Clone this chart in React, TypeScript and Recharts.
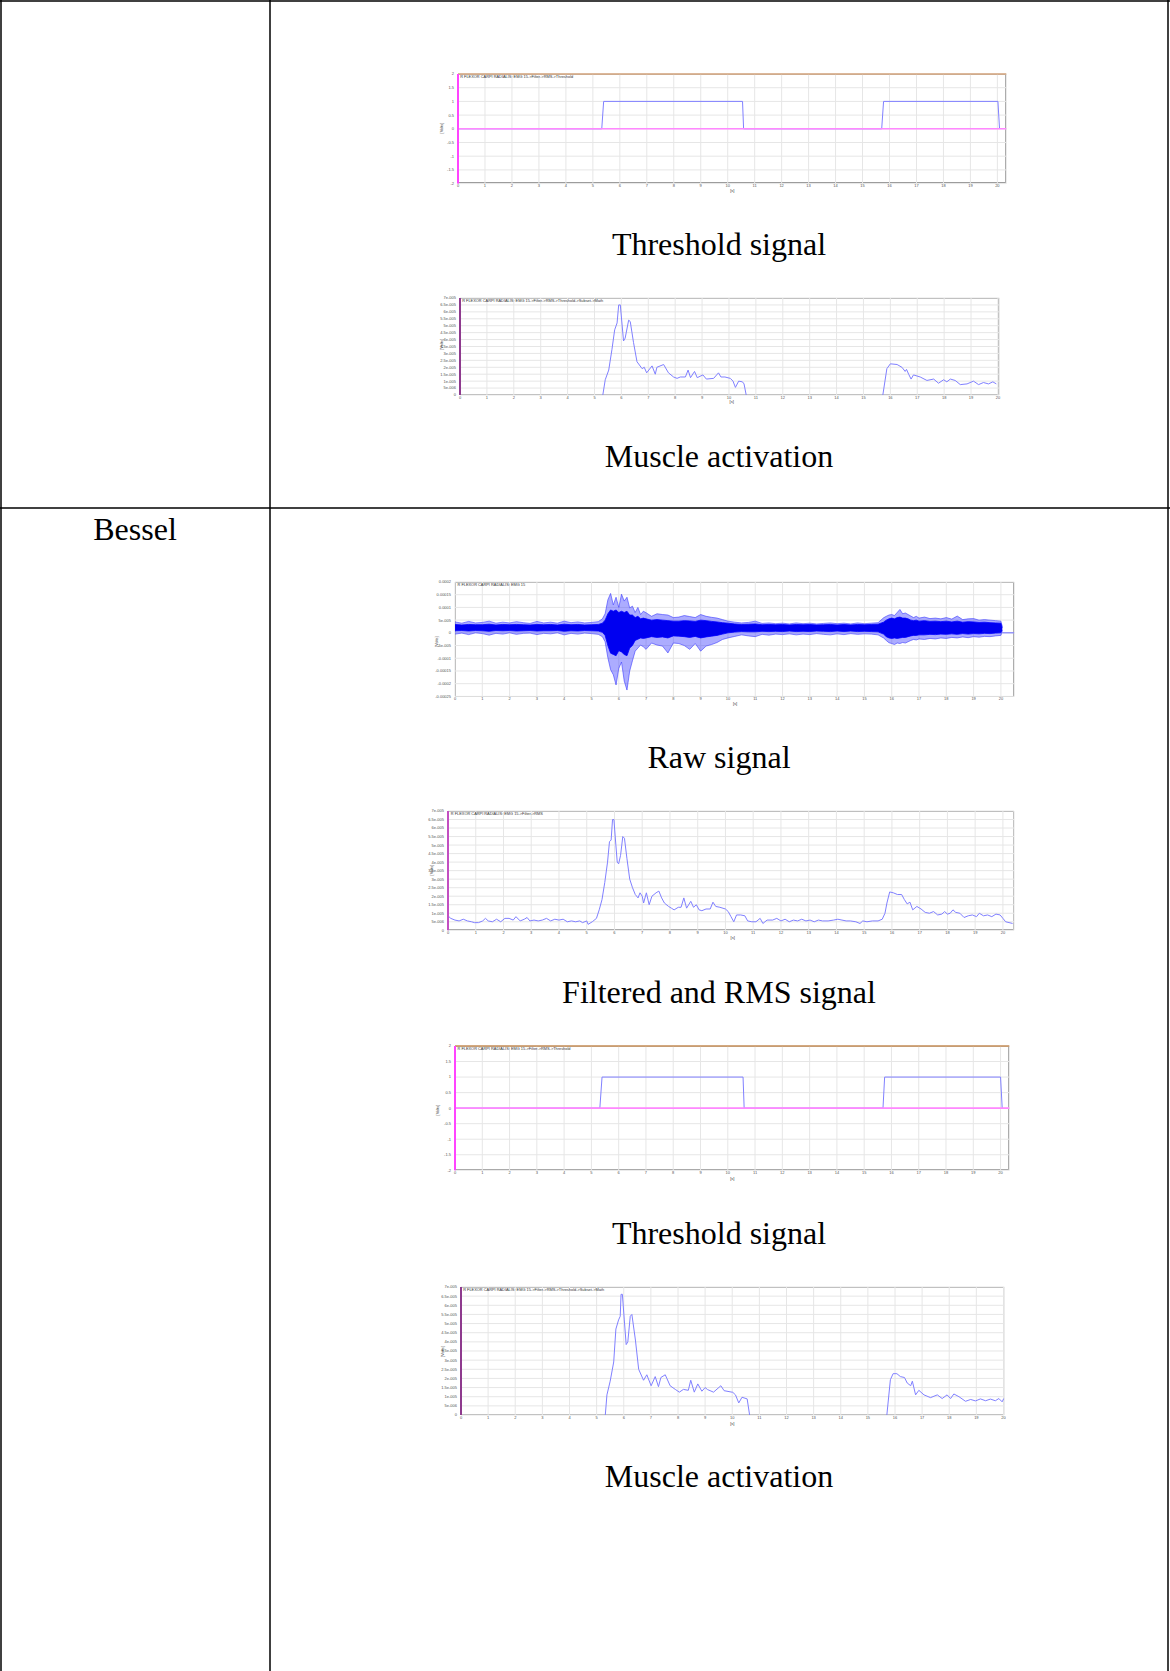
import React from "react"
import { ComposedChart, Line, Area, XAxis, YAxis, CartesianGrid, ReferenceLine } from "recharts"

// time axis (s)
const seconds = [0, 1, 2, 3, 4, 5, 6, 7, 8, 9, 10, 11, 12, 13, 14, 15, 16, 17, 18, 19, 20]

// y ticks
const thrTicks = [-2, -1.5, -1, -0.5, 0, 0.5, 1, 1.5, 2]
const thrLabels = ["-2", "-1.5", "-1", "-0.5", "0", "0.5", "1", "1.5", "2"]
// activation / RMS values are in units of 1e-5 V
const actTicks = [0, 0.5, 1, 1.5, 2, 2.5, 3, 3.5, 4, 4.5, 5, 5.5, 6, 6.5, 7]
const actLabels = ["0", "5e-006", "1e-005", "1.5e-005", "2e-005", "2.5e-005", "3e-005", "3.5e-005", "4e-005", "4.5e-005", "5e-005", "5.5e-005", "6e-005", "6.5e-005", "7e-005"]
const rawTicks = [-25, -20, -15, -10, -5, 0, 5, 10, 15, 20]
const rawLabels = ["-0.00025", "-0.0002", "-0.00015", "-0.0001", "-5e-005", "0", "5e-005", "0.0001", "0.00015", "0.0002"]

// threshold output (0 / 1)
const thrTop: [number, number][] = [[0, 0], [5.33, 0], [5.4, 1], [10.55, 1], [10.59, 0], [15.71, 0], [15.78, 1], [20.02, 1], [20.08, 0]]
const thrBessel: [number, number][] = [[0, 0], [5.31, 0], [5.39, 1], [10.56, 1], [10.6, 0], [15.69, 0], [15.75, 1], [20.0, 1], [20.06, 0]]

// muscle activation, first table row (1e-5 V)
const actTopA: [number, number][] = [[5.31, 0], [5.4, 1.1], [5.53, 1.8], [5.65, 3.3], [5.75, 4.7], [5.84, 5.2], [5.9, 6.5], [5.96, 6.5], [6.08, 3.9], [6.14, 4.1], [6.27, 5.4], [6.33, 5.3], [6.45, 3.8], [6.58, 2.4], [6.77, 1.9], [6.85, 2.0], [6.94, 1.6], [7.14, 2.1], [7.26, 1.5], [7.32, 2.0], [7.57, 2.2], [7.75, 1.6], [7.94, 1.3], [8.07, 1.2], [8.19, 1.3], [8.38, 1.3], [8.48, 1.8], [8.57, 1.25], [8.72, 1.7], [8.82, 1.25], [9.03, 1.45], [9.16, 1.15], [9.43, 1.2], [9.61, 1.6], [9.7, 1.3], [9.85, 1.3], [10.05, 1.2], [10.15, 1.0], [10.24, 0.55], [10.36, 1.0], [10.5, 0.95], [10.56, 0.8], [10.64, 0]]
const actTopB: [number, number][] = [[15.72, 0], [15.87, 1.9], [16.0, 2.25], [16.25, 2.2], [16.43, 2.0], [16.55, 1.7], [16.6, 1.85], [16.68, 1.5], [16.77, 1.15], [16.86, 1.45], [17.11, 1.3], [17.36, 1.05], [17.61, 1.15], [17.79, 0.85], [17.98, 1.1], [18.1, 0.95], [18.23, 1.15], [18.41, 1.05], [18.6, 0.75], [18.85, 0.8], [19.09, 1.0], [19.28, 0.75], [19.46, 0.9], [19.65, 0.8], [19.81, 0.95], [19.94, 0.8]]

// raw EMG envelope (1e-5 V): outer spikes and dense core
const rawTime = [0, 0.25, 0.5, 0.75, 1, 1.25, 1.5, 1.75, 2, 2.25, 2.5, 2.75, 3, 3.25, 3.5, 3.75, 4, 4.25, 4.5, 4.75, 5, 5.25, 5.4,
  5.5, 5.6, 5.7, 5.8, 5.9, 6, 6.1, 6.2, 6.3, 6.4, 6.5, 6.6, 6.7, 6.8, 6.9, 7,
  7.2, 7.4, 7.6, 7.8, 8, 8.2, 8.4, 8.6, 8.8, 9, 9.2, 9.4, 9.6, 9.8, 10,
  10.25, 10.5, 10.75, 11, 11.25, 11.5, 11.75, 12, 12.25, 12.5, 12.75, 13, 13.25, 13.5, 13.75, 14, 14.25, 14.5, 14.75, 15, 15.25, 15.5,
  15.7, 15.8, 15.9, 16, 16.1, 16.2, 16.3, 16.4, 16.5, 16.6, 16.7, 16.8, 16.9, 17,
  17.2, 17.4, 17.6, 17.8, 18, 18.2, 18.4, 18.6, 18.8, 19, 19.2, 19.4, 19.6, 19.8, 20, 20.05]
const rawOuterHi = [4.3, 3.8, 4.5, 3.9, 4.1, 4.6, 3.8, 4.2, 3.9, 4.4, 4.0, 3.7, 4.5, 3.9, 4.2, 3.8, 4.6, 4.0, 4.3, 3.9, 4.1, 4.4, 5.5,
  7.5, 13.0, 15.5, 11.0, 14.0, 10.0, 15.2, 12.5, 14.0, 9.8, 10.5, 8.0, 10.0, 7.2, 8.5, 7.9,
  6.5, 7.5, 7.2, 7.0, 6.0, 6.2, 6.8, 6.4, 6.0, 7.2, 6.5, 6.1, 5.8, 5.2, 4.6,
  4.2, 3.9, 4.1, 4.6, 3.7, 3.9, 3.6, 3.8, 3.5, 3.9, 3.6, 3.8, 3.5, 3.7, 3.9, 3.6, 3.8, 3.5, 3.9, 3.6, 3.8, 4.0,
  5.9, 6.5, 7.0, 7.2, 6.8, 8.0, 9.2, 7.5, 7.8, 7.2, 6.6, 6.0, 6.5, 5.8,
  6.2, 5.6, 5.8, 5.5, 6.0, 5.4, 6.6, 5.2, 5.5, 5.6, 5.0, 5.2, 5.0, 4.8, 4.6, 2.5]
const rawOuterLo = [-0.5, -0.1, -0.7, 0, -0.3, -0.9, -0.2, -0.5, 0, -0.6, -0.2, -0.1, -0.7, -0.2, -0.4, 0, -0.8, -0.2, -0.5, -0.1, -0.3, -0.6, -1.5,
  -3.5, -9.8, -14.5, -16.5, -20.5, -14.0, -11.5, -19.0, -22.5, -15.0, -11.0, -7.2, -6.0, -4.8, -5.5, -6.5,
  -4.0, -4.8, -5.2, -7.9, -4.0, -4.2, -5.0, -6.5, -4.2, -7.2, -5.2, -4.6, -3.8, -2.6, -2.0,
  -1.4, -0.8, -1.2, -1.5, -0.6, -0.9, -0.5, -0.7, -0.4, -0.8, -0.5, -0.7, -0.3, -0.6, -0.8, -0.4, -0.7, -0.3, -0.6, -0.4, -0.5, -0.8,
  -2.0, -3.0, -3.9, -4.2, -4.6, -4.0, -4.2, -3.8, -4.0, -3.5, -3.0, -2.6, -2.8, -2.4,
  -2.6, -2.2, -2.4, -2.0, -2.2, -1.8, -2.0, -1.6, -1.9, -1.5, -1.7, -1.4, -1.5, -1.2, -1.0, 0.5]
const rawCoreHi = [3.3, 3.1, 3.3, 3.2, 3.2, 3.4, 3.1, 3.3, 3.2, 3.3, 3.2, 3.1, 3.3, 3.2, 3.3, 3.1, 3.4, 3.2, 3.3, 3.1, 3.2, 3.3, 3.8,
  5.0, 7.5, 9.0, 8.5, 9.0, 8.0, 8.5, 8.0, 8.5, 7.0, 7.0, 6.0, 6.5, 5.5, 5.8, 5.5,
  5.0, 5.2, 5.0, 4.8, 4.6, 4.6, 4.8, 4.7, 4.5, 5.0, 4.8, 4.5, 4.3, 4.0, 3.8,
  3.5, 3.3, 3.4, 3.5, 3.2, 3.3, 3.2, 3.3, 3.1, 3.3, 3.2, 3.3, 3.1, 3.2, 3.3, 3.1, 3.3, 3.1, 3.3, 3.2, 3.3, 3.4,
  4.2, 5.0, 5.5, 5.8, 5.5, 6.0, 6.2, 5.8, 5.8, 5.5, 5.0, 4.8, 5.0, 4.6,
  4.8, 4.5, 4.6, 4.4, 4.6, 4.3, 4.6, 4.2, 4.4, 4.3, 4.1, 4.2, 4.0, 3.9, 3.8, 2.0]
const rawCoreLo = [0.8, 0.9, 0.7, 0.9, 0.8, 0.6, 0.9, 0.8, 0.9, 0.7, 0.8, 0.9, 0.7, 0.8, 0.8, 0.9, 0.6, 0.8, 0.7, 0.9, 0.8, 0.7, 0.2,
  -1.0, -5.0, -8.0, -8.5, -9.0, -7.0, -7.5, -8.5, -9.0, -6.0, -5.0, -3.0, -2.5, -2.0, -2.2, -2.0,
  -1.5, -1.8, -1.6, -2.0, -1.2, -1.3, -1.5, -1.8, -1.4, -2.0, -1.6, -1.3, -1.0, -0.5, 0,
  0.3, 0.5, 0.4, 0.4, 0.6, 0.5, 0.6, 0.5, 0.7, 0.5, 0.6, 0.5, 0.7, 0.6, 0.5, 0.7, 0.5, 0.7, 0.5, 0.6, 0.5, 0.4,
  -0.5, -1.5, -2.0, -2.2, -2.0, -2.2, -2.0, -1.8, -1.8, -1.5, -1.2, -1.0, -1.0, -0.8,
  -0.8, -0.6, -0.7, -0.5, -0.6, -0.4, -0.6, -0.3, -0.5, -0.3, -0.4, -0.2, -0.3, -0.1, 0, 1.0]
const rawTail: [number, number][] = [[20.05, 0], [20.49, 0]]

// filtered + RMS (1e-5 V)
const filtered: [number, number][] = [[0, 0.85], [0.1, 0.7], [0.25, 0.6], [0.4, 0.55], [0.55, 0.65], [0.7, 0.55], [0.85, 0.5], [0.95, 0.45], [1.1, 0.45], [1.25, 0.55], [1.35, 0.7], [1.45, 0.55], [1.6, 0.5], [1.75, 0.65], [1.9, 0.5], [2.05, 0.7], [2.2, 0.7], [2.35, 0.6], [2.45, 0.8], [2.6, 0.55], [2.75, 0.65], [2.85, 0.75], [2.95, 0.55], [3.1, 0.6], [3.25, 0.55], [3.4, 0.6], [3.55, 0.7], [3.7, 0.55], [3.85, 0.65], [4.0, 0.6], [4.15, 0.65], [4.3, 0.5], [4.45, 0.55], [4.6, 0.5], [4.75, 0.55], [4.85, 0.45], [5.0, 0.55], [5.05, 0.35], [5.2, 0.5], [5.35, 0.7], [5.45, 1.2], [5.55, 1.8], [5.65, 2.8], [5.75, 4.0], [5.82, 5.2], [5.88, 5.3], [5.93, 6.5], [5.98, 6.5], [6.05, 5.0], [6.1, 4.0], [6.15, 3.9], [6.22, 4.4], [6.3, 5.5], [6.36, 5.4], [6.45, 4.2], [6.55, 3.0], [6.65, 2.5], [6.75, 2.1], [6.85, 1.9], [6.92, 2.2], [7.0, 2.0], [7.05, 1.6], [7.15, 2.2], [7.25, 1.5], [7.35, 2.0], [7.5, 2.2], [7.6, 2.3], [7.7, 1.9], [7.8, 1.6], [7.95, 1.4], [8.05, 1.3], [8.15, 1.2], [8.3, 1.35], [8.4, 1.35], [8.5, 1.9], [8.6, 1.3], [8.75, 1.7], [8.85, 1.35], [8.95, 1.5], [9.05, 1.2], [9.15, 1.15], [9.3, 1.25], [9.45, 1.25], [9.55, 1.65], [9.65, 1.4], [9.8, 1.35], [10.0, 1.25], [10.1, 1.1], [10.2, 0.8], [10.3, 0.5], [10.4, 0.9], [10.55, 0.9], [10.7, 0.85], [10.8, 0.55], [10.95, 0.5], [11.1, 0.5], [11.25, 0.7], [11.35, 0.4], [11.5, 0.6], [11.7, 0.6], [11.85, 0.7], [12.0, 0.55], [12.15, 0.65], [12.3, 0.5], [12.45, 0.6], [12.6, 0.55], [12.75, 0.65], [12.9, 0.55], [13.05, 0.6], [13.2, 0.5], [13.35, 0.6], [13.5, 0.55], [13.7, 0.55], [13.9, 0.6], [14.05, 0.65], [14.2, 0.6], [14.35, 0.55], [14.5, 0.55], [14.7, 0.5], [14.85, 0.4], [14.95, 0.55], [15.1, 0.5], [15.3, 0.55], [15.5, 0.55], [15.65, 0.65], [15.75, 1.0], [15.82, 1.6], [15.92, 2.25], [16.05, 2.2], [16.2, 2.1], [16.35, 2.1], [16.45, 1.8], [16.55, 1.55], [16.65, 1.65], [16.75, 1.2], [16.9, 1.4], [17.05, 1.25], [17.2, 1.05], [17.35, 1.0], [17.5, 1.1], [17.65, 0.9], [17.8, 0.95], [17.9, 1.1], [18.0, 0.95], [18.1, 1.0], [18.2, 1.2], [18.3, 1.05], [18.45, 1.0], [18.6, 0.75], [18.75, 0.85], [18.9, 0.9], [19.05, 0.8], [19.15, 1.0], [19.3, 0.85], [19.45, 0.9], [19.6, 0.8], [19.75, 0.95], [19.9, 0.9], [20.0, 0.7], [20.1, 0.5], [20.35, 0.4]]

// muscle activation, Bessel row (1e-5 V)
const actBesselA: [number, number][] = [[5.32, 0], [5.38, 1.1], [5.5, 1.85], [5.63, 2.9], [5.71, 4.7], [5.81, 5.2], [5.87, 5.4], [5.9, 6.6], [5.95, 6.6], [6.02, 5.2], [6.09, 3.85], [6.15, 4.0], [6.24, 5.4], [6.3, 5.5], [6.43, 4.1], [6.55, 2.5], [6.73, 1.9], [6.85, 2.2], [7.01, 1.6], [7.16, 2.1], [7.28, 1.55], [7.37, 2.05], [7.53, 2.2], [7.71, 1.6], [7.9, 1.4], [8.05, 1.25], [8.2, 1.4], [8.38, 1.35], [8.47, 1.9], [8.6, 1.25], [8.73, 1.7], [8.88, 1.3], [9.0, 1.5], [9.09, 1.39], [9.31, 1.25], [9.58, 1.6], [9.7, 1.33], [10.02, 1.24], [10.12, 1.1], [10.24, 0.66], [10.36, 0.97], [10.55, 0.88], [10.64, 0]]
const actBesselB: [number, number][] = [[15.7, 0], [15.83, 1.93], [15.93, 2.26], [16.07, 2.26], [16.2, 2.1], [16.35, 2.05], [16.45, 1.75], [16.58, 1.6], [16.64, 1.85], [16.76, 1.1], [16.88, 1.35], [17.07, 1.1], [17.31, 0.95], [17.56, 1.1], [17.74, 0.9], [17.92, 1.1], [18.05, 0.9], [18.17, 1.15], [18.36, 1.0], [18.6, 0.75], [18.79, 0.85], [18.97, 0.77], [19.15, 0.88], [19.34, 0.78], [19.52, 0.87], [19.7, 0.78], [19.83, 0.9], [19.95, 0.72], [20.01, 0.9]]

const pts = (a: [number, number][]) => a.map(([t, v]) => ({ t, v }))
const rawRows = rawTime.map((t, i) => ({
  t,
  outer: [rawOuterLo[i], rawOuterHi[i]],
  core: [rawCoreLo[i], rawCoreHi[i]],
}))

type Box = { l: number; t: number; r: number; b: number }

const tickStyle = { fontSize: 4, fill: "#555", fontFamily: "Liberation Sans, Arial, sans-serif" }
const BLUE = "#8080ff"

function Plot({ box, xMax, yDomain, yTicks, yLabels, data, children }: {
  box: Box; xMax: number; yDomain: [number, number]; yTicks: number[]; yLabels: string[]; data?: any[]; children: React.ReactNode
}) {
  const padL = 30, padT = 5, padR = 2, padB = 10
  const w = box.r - box.l
  const h = box.b - box.t
  return (
    <>
      <div style={{ position: "absolute", left: box.l, top: box.t, width: w, height: h, border: "1px solid #9c9c9c", boxSizing: "border-box" }} />
      <div style={{ position: "absolute", left: box.l - padL, top: box.t - padT }}>
        <ComposedChart width={w + padL + padR} height={h + padT + padB} data={data} margin={{ top: padT, right: padR, bottom: 0, left: 0 }}>
          <CartesianGrid stroke="#e6e6e6" strokeWidth={1} />
          <XAxis type="number" dataKey="t" domain={[0, xMax]} ticks={seconds} interval={0} allowDataOverflow
            height={padB} tickLine={false} axisLine={false} tickSize={1} tickMargin={0} tick={tickStyle} />
          <YAxis type="number" domain={yDomain} ticks={yTicks} interval={0} allowDataOverflow width={padL}
            tickLine={false} axisLine={false} tickSize={1} tickMargin={3} tick={tickStyle}
            tickFormatter={(v: number) => yLabels[yTicks.indexOf(v)] ?? String(v)} />
          {children}
        </ComposedChart>
      </div>
    </>
  )
}

const boxes: Box[] = [
  { l: 457.7, t: 73.7, r: 1006, b: 183.3 },
  { l: 459.7, t: 298.3, r: 999, b: 395.3 },
  { l: 455, t: 582.3, r: 1014.3, b: 696.7 },
  { l: 448.3, t: 811, r: 1014.3, b: 930.3 },
  { l: 455, t: 1046, r: 1009.3, b: 1170.3 },
  { l: 460.7, t: 1287.3, r: 1004, b: 1415.3 },
]

const titles = [
  "R FLEXOR CARPI RADIALIS: EMG 15->Filter->RMS->Threshold",
  "R FLEXOR CARPI RADIALIS: EMG 15->Filter->RMS->Threshold->Subset->Math",
  "R FLEXOR CARPI RADIALIS: EMG 15",
  "R FLEXOR CARPI RADIALIS: EMG 15->Filter->RMS",
  "R FLEXOR CARPI RADIALIS: EMG 15->Filter->RMS->Threshold",
  "R FLEXOR CARPI RADIALIS: EMG 15->Filter->RMS->Threshold->Subset->Math",
]
const voltsAt = [[441.7, 128], [441.7, 344.3], [436.7, 641.7], [431.7, 870], [438.3, 1110], [443.3, 1351.7]]
const secAt = [[732.3, 192], [731.7, 402.5], [735, 705], [732.7, 938.5], [732.3, 1180], [732.3, 1425]]

const captions: [string, number, number][] = [
  ["Threshold signal", 719, 255],
  ["Muscle activation", 719, 467],
  ["Bessel", 135, 540],
  ["Raw signal", 719, 768],
  ["Filtered and RMS signal", 719, 1003],
  ["Threshold signal", 719, 1244],
  ["Muscle activation", 719, 1487],
]

export default function App() {
  return (
    <div style={{ position: "absolute", left: 0, top: 0, width: 1170, height: 1671, background: "#fff", overflow: "hidden" }}>
      {/* threshold, first row */}
      <Plot box={boxes[0]} xMax={20.33} yDomain={[-2, 2]} yTicks={thrTicks} yLabels={thrLabels}>
        <Line data={pts(thrTop)} dataKey="v" type="linear" stroke={BLUE} strokeWidth={1} dot={false} isAnimationActive={false} />
        <ReferenceLine y={0} stroke="#ff88ff" strokeWidth={1.6} />
        <ReferenceLine y={2} stroke="#d4a47c" strokeWidth={1.6} />
        <ReferenceLine x={0} stroke="#ff44ff" strokeWidth={2} />
      </Plot>
      {/* muscle activation, first row */}
      <Plot box={boxes[1]} xMax={20.05} yDomain={[0, 7]} yTicks={actTicks} yLabels={actLabels}>
        <Line data={pts(actTopA)} dataKey="v" type="linear" stroke={BLUE} strokeWidth={1} dot={false} isAnimationActive={false} />
        <Line data={pts(actTopB)} dataKey="v" type="linear" stroke={BLUE} strokeWidth={1} dot={false} isAnimationActive={false} />
        <ReferenceLine x={0} stroke="#8e3a8e" strokeWidth={2} />
      </Plot>
      {/* raw signal */}
      <Plot box={boxes[2]} xMax={20.49} yDomain={[-25, 20]} yTicks={rawTicks} yLabels={rawLabels} data={rawRows}>
        <Area dataKey="outer" type="linear" stroke="#3a3aff" strokeWidth={0.6} fill="#3030ff" fillOpacity={0.4} dot={false} isAnimationActive={false} />
        <Area dataKey="core" type="linear" stroke="#0000ff" strokeWidth={0.8} fill="#0000f0" fillOpacity={1} dot={false} isAnimationActive={false} />
        <Line data={pts(rawTail)} dataKey="v" type="linear" stroke="#6a6aff" strokeWidth={1} dot={false} isAnimationActive={false} />
      </Plot>
      {/* filtered + RMS */}
      <Plot box={boxes[3]} xMax={20.4} yDomain={[0, 7]} yTicks={actTicks} yLabels={actLabels}>
        <Line data={pts(filtered)} dataKey="v" type="linear" stroke={BLUE} strokeWidth={1} dot={false} isAnimationActive={false} />
        <ReferenceLine x={0} stroke="#c24fc2" strokeWidth={2} />
      </Plot>
      {/* threshold, Bessel */}
      <Plot box={boxes[4]} xMax={20.32} yDomain={[-2, 2]} yTicks={thrTicks} yLabels={thrLabels}>
        <Line data={pts(thrBessel)} dataKey="v" type="linear" stroke={BLUE} strokeWidth={1} dot={false} isAnimationActive={false} />
        <ReferenceLine y={0} stroke="#ff88ff" strokeWidth={1.6} />
        <ReferenceLine y={2} stroke="#c8915a" strokeWidth={1.6} />
        <ReferenceLine x={0} stroke="#ff44ff" strokeWidth={2} />
      </Plot>
      {/* muscle activation, Bessel */}
      <Plot box={boxes[5]} xMax={20.03} yDomain={[0, 7]} yTicks={actTicks} yLabels={actLabels}>
        <Line data={pts(actBesselA)} dataKey="v" type="linear" stroke={BLUE} strokeWidth={1} dot={false} isAnimationActive={false} />
        <Line data={pts(actBesselB)} dataKey="v" type="linear" stroke={BLUE} strokeWidth={1} dot={false} isAnimationActive={false} />
        <ReferenceLine x={0} stroke="#8e3a8e" strokeWidth={2} />
      </Plot>

      <svg width={1170} height={1671} style={{ position: "absolute", left: 0, top: 0, pointerEvents: "none" }}>
        {/* table */}
        <g stroke="#000" strokeWidth={1.5}>
          <line x1={0} y1={1} x2={1170} y2={1} />
          <line x1={1} y1={0} x2={1} y2={1671} />
          <line x1={270} y1={0} x2={270} y2={1671} />
          <line x1={1168} y1={0} x2={1168} y2={1671} />
          <line x1={0} y1={508} x2={1170} y2={508} />
        </g>
        {captions.map(([s, x, y], i) => (
          <text key={i} x={x} y={y} textAnchor="middle" fontFamily="Liberation Serif, Times New Roman, serif" fontSize={32} fill="#000">{s}</text>
        ))}
        {boxes.map((b, i) => (
          <g key={i} fontFamily="Liberation Sans, Arial, sans-serif" fill="#333">
            <text x={b.l + 2.5} y={b.t + 4} fontSize={3.9}>{titles[i]}</text>
            <text x={voltsAt[i][0]} y={voltsAt[i][1]} fontSize={4} textAnchor="middle" dominantBaseline="middle" transform={`rotate(-90 ${voltsAt[i][0]} ${voltsAt[i][1]})`}>[Volts]</text>
            <text x={secAt[i][0]} y={secAt[i][1]} fontSize={4} textAnchor="middle">[s]</text>
          </g>
        ))}
      </svg>
    </div>
  )
}
